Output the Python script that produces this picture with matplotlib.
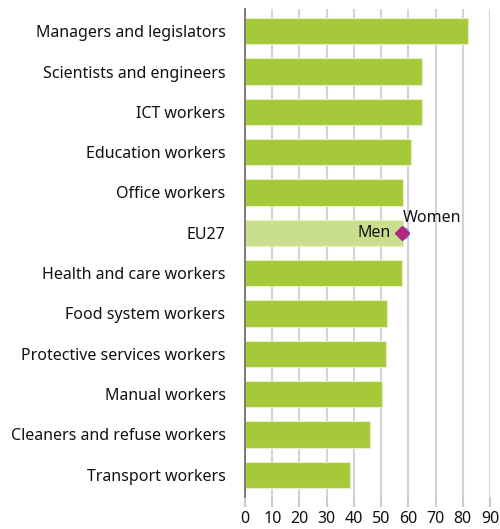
import numpy as np
import matplotlib.pyplot as plt

plt.rcParams['font.family'] = ['Noto Sans', 'DejaVu Sans']

categories = [
    "Managers and legislators",
    "Scientists and engineers",
    "ICT workers",
    "Education workers",
    "Office workers",
    "EU27",
    "Health and care workers",
    "Food system workers",
    "Protective services workers",
    "Manual workers",
    "Cleaners and refuse workers",
    "Transport workers",
]
values = [82.0, 65.0, 65.0, 61.0, 58.0, 57.9, 57.5, 52.0, 51.7, 50.5, 45.8, 38.6]
eu_men = 57.7
eu_women = 58.2
xticks = [0, 10, 20, 30, 40, 50, 60, 70, 80, 90]

green = "#a6c93a"
light_green = "#cadf8e"

fig = plt.figure(figsize=(5.0, 5.29), dpi=100)
ax = fig.add_axes([0.49, 0.0605, 0.49, 0.9225])

y = np.arange(len(categories))
colors = [light_green if c == "EU27" else green for c in categories]
ax.barh(y, values, height=0.65, color=colors, edgecolor="#e6f0c4", linewidth=0.8, zorder=2)

eu_idx = categories.index("EU27")
ax.plot(eu_women, eu_idx, "o", color="#6aa9e0", markersize=8, zorder=3)
ax.plot(eu_men, eu_idx, "D", color="#b5267f", markersize=7, zorder=4)
ax.text(eu_men - 4.3, eu_idx, "Men", ha="right", va="center", fontsize=11.5, color="#111111", zorder=5)
ax.text(eu_women - 0.2, eu_idx - 0.37, "Women", ha="left", va="center", fontsize=11.5, color="#111111", zorder=5)

ax.set_xlim(0, 90)
ax.set_ylim(len(categories) - 0.45, -0.55)
ax.set_yticks(y)
ax.set_yticklabels(categories, fontsize=11.5, color="#111111")
ax.set_xticks(xticks)
ax.set_xticklabels([str(t) for t in xticks], fontsize=11.5, color="#111111")

ax.xaxis.grid(True, color="#d4d4d4", linewidth=1.5, zorder=0)
ax.set_axisbelow(True)
for s in ["top", "right", "bottom"]:
    ax.spines[s].set_visible(False)
ax.spines["left"].set_color("#666666")
ax.spines["left"].set_linewidth(1.2)
ax.tick_params(axis="y", length=0, pad=14)
ax.tick_params(axis="x", length=7, width=1.5, color="#cccccc", pad=3)

plt.savefig("out.png", dpi=100)
